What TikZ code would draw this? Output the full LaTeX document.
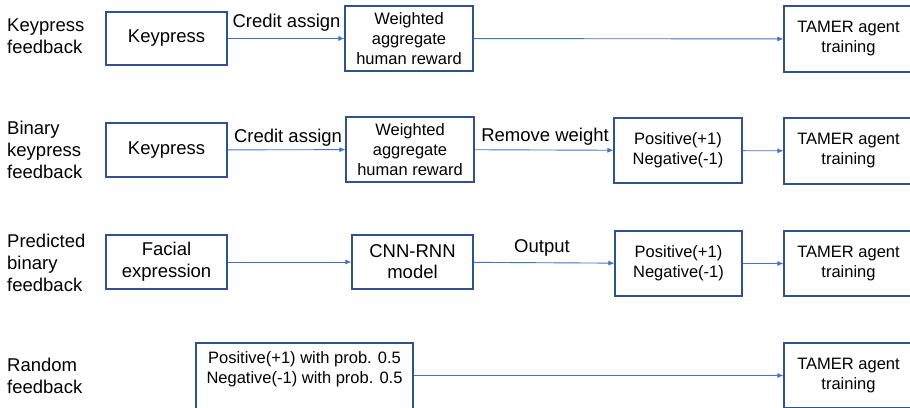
\documentclass[tikz,border=0pt]{standalone}
\usepackage{fontspec}
\setmainfont{Liberation Sans}
\usetikzlibrary{arrows.meta}
\definecolor{boxc}{HTML}{2F528F}
\definecolor{arrc}{HTML}{4472C4}
\begin{document}
\begin{tikzpicture}[x=1pt,y=-1pt,
  big/.style={font=\fontsize{18.5}{22}\selectfont},
  small/.style={font=\fontsize{16.5}{20}\selectfont},
  box/.style={draw=boxc, line width=1.1pt, inner sep=0pt, align=center},
  rowlbl/.style={big, anchor=west, align=left, inner sep=0pt},
  elbl/.style={big, anchor=base, inner sep=0pt},
  arr/.style={draw=arrc, line width=0.9pt, -{Latex[length=6pt,width=5pt]}}
]
\useasboundingbox (0,0) rectangle (910,407);

% Row 1
\node[rowlbl] (l1) at (7,36) {Keypress\\feedback};
\node[box, big, minimum width=121, minimum height=53] (k1) at (166.5,38.5) {Keypress};
\node[box, small, minimum width=128, minimum height=65] (w1) at (409,38.5) {Weighted\\aggregate\\human reward};
\node[box, small, minimum width=129, minimum height=66] (t1) at (848.5,39) {TAMER agent\\training};
\draw[arr] (k1) -- (w1);
\draw[arr] (w1) -- (t1);
\node[elbl] (ca1) at (286.5,27) {Credit assign};

% Row 2
\node[rowlbl] (l2) at (7,150) {Binary\\keypress\\feedback};
\node[box, big, minimum width=121, minimum height=54] (k2) at (166.5,150) {Keypress};
\node[box, small, minimum width=128, minimum height=65] (w2) at (410,149.5) {Weighted\\aggregate\\human reward};
\node[box, small, minimum width=128, minimum height=65] (p2) at (678,150.5) {Positive(+1)\\Negative(-1)};
\node[box, small, minimum width=129, minimum height=66] (t2) at (848.5,151) {TAMER agent\\training};
\draw[arr] (k2) -- (w2);
\draw[arr] (w2) -- (p2);
\draw[arr] (p2) -- (t2);
\node[elbl] (ca2) at (288,142) {Credit assign};
\node[elbl] (rw2) at (545,141) {Remove weight};

% Row 3
\node[rowlbl] (l3) at (7,262.5) {Predicted\\binary\\feedback};
\node[box, big, minimum width=121, minimum height=54] (f3) at (166.5,262) {Facial\\expression};
\node[box, big, minimum width=121, minimum height=54] (c3) at (412.5,262) {CNN-RNN\\[-1pt]model};
\node[box, small, minimum width=127, minimum height=65] (p3) at (678.5,263.5) {Positive(+1)\\Negative(-1)};
\node[box, small, minimum width=129, minimum height=65] (t3) at (848.5,263.5) {TAMER agent\\training};
\draw[arr] (f3) -- (c3);
\draw[arr] (c3) -- (p3);
\draw[arr] (p3) -- (t3);
\node[elbl] (o3) at (542,252) {Output};

% Row 4
\node[rowlbl] (l4) at (7,375.5) {Random\\feedback};
\node[box, minimum width=217, minimum height=90] (r4) at (304.5,388) {};
\node[small, align=center, inner sep=0pt] (r4t) at (304.5,369.5) {Positive(+1) with prob. 0.5\\Negative(-1) with prob. 0.5};
\node[box, small, minimum width=129, minimum height=65] (t4) at (848.5,375.5) {TAMER agent\\training};
\draw[arr] (r4.east |- t4.west) -- (t4.west);
\end{tikzpicture}
\end{document}
